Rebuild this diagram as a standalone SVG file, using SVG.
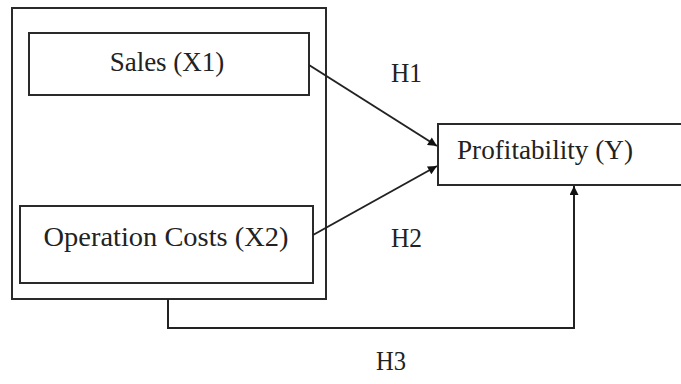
<svg xmlns="http://www.w3.org/2000/svg" width="681" height="384" viewBox="0 0 681 384">
<style>
.box{fill:none;stroke:#2a2a2a;stroke-width:2}
.t{font-family:"Liberation Serif","Times New Roman",serif;font-size:27px;fill:#222}
.c{fill:none;stroke:#222;stroke-width:2}
</style>
<defs>
<marker id="ah" viewBox="0 0 10 10" refX="10" refY="5" markerWidth="11" markerHeight="9" markerUnits="userSpaceOnUse" orient="auto">
<path d="M0,0 L10,5 L0,10 z" fill="#111"/>
</marker>
</defs>
<rect width="681" height="384" fill="#fff"/>
<g id="group">
<rect class="box" x="12" y="8" width="314" height="291"/>
</g>
<g id="sales">
<rect class="box" x="29" y="33" width="280" height="62"/>
<text class="t" x="167" y="71" text-anchor="middle">Sales (X1)</text>
</g>
<g id="opcosts">
<rect class="box" x="20" y="206" width="293" height="77"/>
<text class="t" x="166" y="246" text-anchor="middle" textLength="245" lengthAdjust="spacingAndGlyphs">Operation Costs (X2)</text>
</g>
<g id="profitability">
<rect class="box" x="438" y="124" width="260" height="61"/>
<text class="t" x="457" y="159" textLength="176" lengthAdjust="spacingAndGlyphs">Profitability (Y)</text>
</g>
<g id="connectors">
<line class="c" x1="309" y1="65" x2="437" y2="146" marker-end="url(#ah)"/>
<line class="c" x1="313" y1="235" x2="437" y2="166" marker-end="url(#ah)"/>
<polyline class="c" points="168,299 168,328 574,328 574,186" marker-end="url(#ah)"/>
</g>
<g id="labels">
<text class="t" x="391" y="82" textLength="31" lengthAdjust="spacingAndGlyphs">H1</text>
<text class="t" x="391" y="247" textLength="31" lengthAdjust="spacingAndGlyphs">H2</text>
<text class="t" x="376" y="370" textLength="30" lengthAdjust="spacingAndGlyphs">H3</text>
</g>
</svg>
